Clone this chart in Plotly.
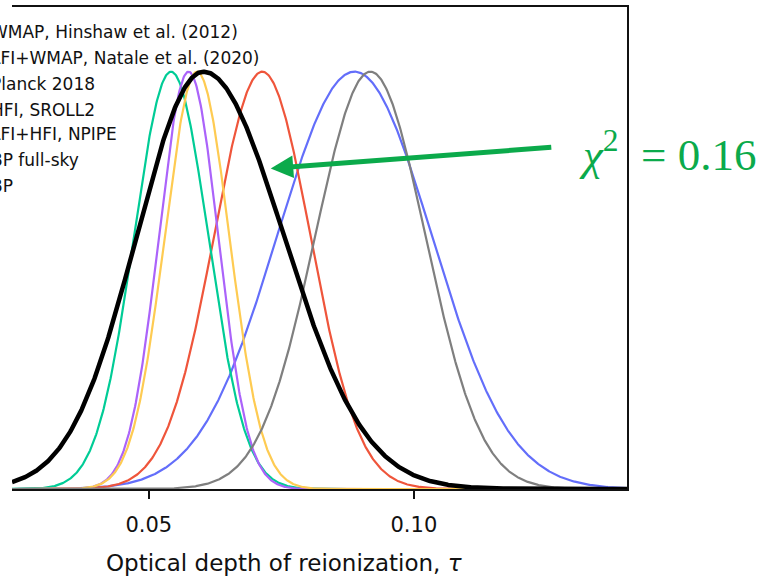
import numpy as np
import plotly.graph_objects as go

# Optical depth constraints: mode and lower/upper 1-sigma widths, peak-normalised curves
labels = [
    "WMAP, Hinshaw et al. (2012)",
    "LFI+WMAP, Natale et al. (2020)",
    "Planck 2018",
    "HFI, SROLL2",
    "LFI+HFI, NPIPE",
    "BP full-sky",
    "BP",
]
tau_mode = [0.0888, 0.0714, 0.0542, 0.0575, 0.0591, 0.0918, 0.0603]
tau_err_lo = [0.0146, 0.0091, 0.0070, 0.0056, 0.0061, 0.0104, 0.0126]
tau_err_hi = [0.0146, 0.0091, 0.0070, 0.0056, 0.0061, 0.0104, 0.0152]
colors = ["#636EFA", "#EF553B", "#00CC96", "#AB63FA", "#FECB52", "#7F7F7F", "#000000"]
widths = [2.2, 2.2, 2.2, 2.2, 2.2, 2.2, 4.5]

tick_vals = [0.05, 0.10]
tick_text = ["0.05", "0.10"]
x_title = "Optical depth of reionization, <i>τ</i>"
chi2_text = "<i>χ</i><sup>2</sup>&nbsp; = 0.16"

x_lo, x_hi = 0.0242, 0.1402
tau = np.linspace(x_lo, x_hi, 900)

fig = go.Figure()
for i in range(len(labels)):
    sig = np.where(tau < tau_mode[i], tau_err_lo[i], tau_err_hi[i])
    y = np.exp(-0.5 * ((tau - tau_mode[i]) / sig) ** 2)
    fig.add_trace(go.Scatter(
        x=tau, y=y, mode="lines", name=labels[i],
        line=dict(color=colors[i], width=widths[i]),
        showlegend=False, hoverinfo="skip",
    ))

plot_top, plot_bottom, plot_left, plot_right = 5, 489, 12, 627
pw, ph = plot_right - plot_left, plot_bottom - plot_top


def px_x(p):
    return (p - plot_left) / pw


def px_y(p):
    return (plot_bottom - p) / ph


label_font = dict(family="DejaVu Sans, sans-serif", size=17, color="#111111")
row_y = [30, 56, 82, 108, 133, 159, 185]
for lab, py in zip(labels, row_y):
    fig.add_annotation(
        text=lab, xref="paper", yref="paper", x=px_x(-11), y=px_y(py),
        xanchor="left", yanchor="middle", showarrow=False, font=label_font,
    )

# arrow pointing at the combined curve
fig.add_annotation(
    x=0.0730, y=0.768, ax=0.1262, ay=0.819,
    xref="x", yref="y", axref="x", ayref="y",
    text="", showarrow=True, arrowhead=2, arrowsize=0.9,
    arrowwidth=5, arrowcolor="#0BAA4B",
)
fig.add_annotation(
    text=chi2_text, xref="paper", yref="paper", x=px_x(577), y=px_y(150),
    xanchor="left", yanchor="middle", showarrow=False,
    font=dict(family="Liberation Serif, DejaVu Serif, serif", size=45, color="#0BAA4B"),
)

tick_font = dict(family="DejaVu Sans, sans-serif", size=21, color="#111111")
title_font = dict(family="DejaVu Sans, sans-serif", size=23, color="#111111")
# x-axis title, centred under the full axis extent
fig.add_annotation(
    text=x_title, xref="paper", yref="paper", x=px_x(284), y=px_y(563),
    xanchor="center", yanchor="middle", showarrow=False, font=title_font,
)

fig.update_layout(
    width=774, height=580,
    margin=dict(l=plot_left, r=774 - plot_right, t=plot_top, b=580 - plot_bottom),
    paper_bgcolor="white", plot_bgcolor="white",
    xaxis=dict(
        range=[x_lo, x_hi], tickvals=tick_vals, ticktext=tick_text,
        ticks="outside", ticklen=8, tickwidth=2, tickcolor="#111111",
        showline=True, linewidth=2, linecolor="#111111", mirror=True,
        showgrid=False, zeroline=False, tickfont=tick_font,
        ticklabelstandoff=8,
    ),
    yaxis=dict(
        range=[0, 1.155], side="right", showticklabels=False, ticks="",
        showline=True, linewidth=2, linecolor="#111111",
        showgrid=False, zeroline=False,
    ),
)

fig.write_html("out.html")
